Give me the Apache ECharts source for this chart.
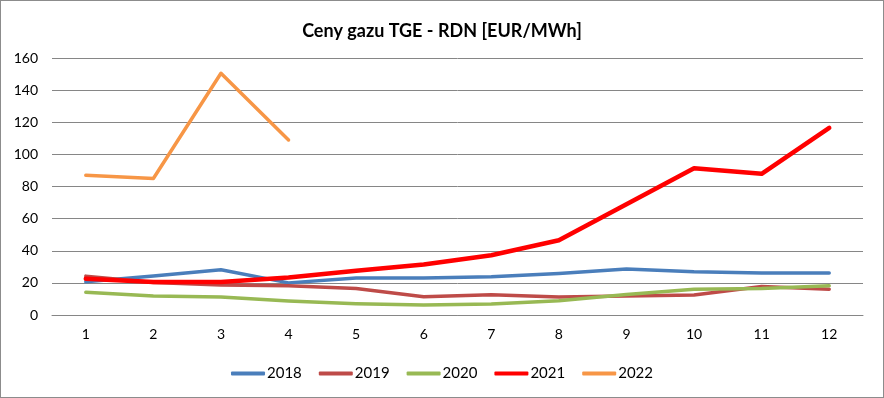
<!DOCTYPE html>
<html>
<head>
<meta charset="utf-8">
<script src="https://cdn.jsdelivr.net/npm/echarts@6/dist/echarts.min.js"></script>
<style>
  html, body { margin: 0; padding: 0; background: #fff; }
  #chart { width: 882px; height: 396px; border: 1px solid #8c8c8c; }
</style>
</head>
<body>
<div id="chart"></div>
<script>
const months = ["1", "2", "3", "4", "5", "6", "7", "8", "9", "10", "11", "12"];
const y2018 = [20.7, 24.3, 28.2, 20, 23, 23.1, 23.8, 25.8, 28.7, 26.9, 26.2, 26.2];
const y2019 = [24.2, 20.3, 18.6, 18.2, 16.5, 11.4, 12.6, 11.2, 11.8, 12.4, 17.8, 16];
const y2020 = [14.1, 11.8, 11.2, 8.7, 7, 6.2, 6.8, 8.9, 12.8, 16.1, 16.5, 18.2];
const y2021 = [22.5, 20.5, 20.5, 23.3, 27.5, 31.4, 37.2, 46.5, 69, 91.4, 87.9, 116.5];
const y2022 = [87, 85, 150.5, 109];

const seriesDefs = [
  { name: "2018", data: y2018, color: "#4a7ebb", width: 3.5 },
  { name: "2019", data: y2019, color: "#be4b48", width: 3.5 },
  { name: "2020", data: y2020, color: "#98b954", width: 3.5 },
  { name: "2021", data: y2021, color: "#ff0000", width: 4.5 },
  { name: "2022", data: y2022, color: "#f79646", width: 3.5 },
];

const chart = echarts.init(document.getElementById("chart"));
const font = "Lato, 'Open Sans', sans-serif";

chart.setOption({
  animation: false,
  backgroundColor: "#fff",
  title: {
    text: "Ceny gazu TGE - RDN [EUR/MWh]",
    left: "center",
    top: 16,
    textStyle: { fontFamily: font, fontSize: 18, fontWeight: "bold", color: "#000" },
  },
  legend: {
    bottom: 11,
    left: "center",
    itemWidth: 34,
    itemHeight: 4,
    itemGap: 17,
    icon: "roundRect",
    textStyle: { fontFamily: font, fontSize: 15, color: "#000", padding: [0, 0, 0, -3] },
    data: seriesDefs.map((s) => s.name),
  },
  grid: { left: 51, right: 20, top: 57, bottom: 82 },
  xAxis: {
    type: "category",
    data: months,
    boundaryGap: true,
    axisLine: { lineStyle: { color: "#868686" } },
    axisTick: { show: false },
    axisLabel: { fontFamily: font, fontSize: 14, color: "#000", margin: 12 },
  },
  yAxis: {
    type: "value",
    min: 0,
    max: 160,
    interval: 20,
    axisLine: { show: false },
    axisTick: { show: false },
    splitLine: { lineStyle: { color: "#868686", width: 1 } },
    axisLabel: { fontFamily: font, fontSize: 14, color: "#000", margin: 14 },
  },
  series: seriesDefs.map((s) => ({
    name: s.name,
    type: "line",
    data: s.data,
    symbol: "none",
    smooth: false,
    itemStyle: { color: s.color },
    lineStyle: { color: s.color, width: s.width, cap: "round", join: "round" },
  })),
});
</script>
</body>
</html>
